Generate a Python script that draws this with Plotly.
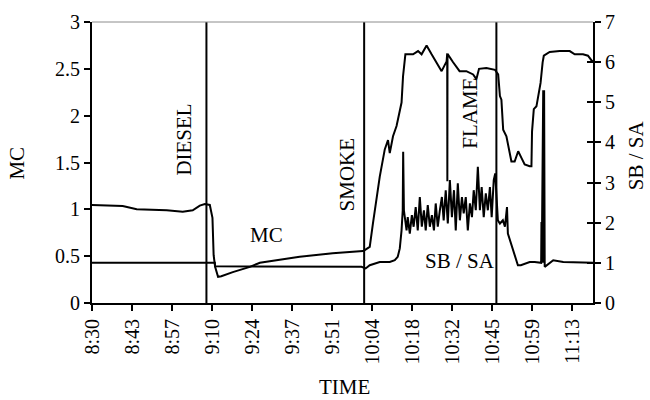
import plotly.graph_objects as go

# ---------------- data (time = minutes after 8:30) ----------------
tick_labels = ["8:30", "8:43", "8:57", "9:10", "9:24", "9:37", "9:51",
               "10:04", "10:18", "10:32", "10:45", "10:59", "11:13"]

mc_t = [0.0, 4.31, 10.43, 15.18, 19.6, 25.37, 30.8, 34.2, 36.6, 38.3, 40.0, 40.9,
        41.3, 41.8, 42.8, 43.9, 47.8, 53.6, 57.0, 64.8, 70.5, 81.7, 87.5, 92.0,
        92.6, 94.3, 95.4, 96.6, 97.7, 99.4, 100.5, 101.1, 102.2, 103.4, 105.1,
        105.6, 106.4, 109.0, 110.7, 111.9, 113.6, 115.3, 117.5, 118.7, 120.4,
        120.6, 120.65, 120.7, 122.6, 124.8, 127.1, 129.4, 130.5, 131.4, 133.9,
        136.8, 137.9, 138.5, 139.0, 139.6, 140.7, 141.3, 142.4, 143.5, 144.7,
        145.8, 146.9, 148.6, 149.2, 149.4, 150.0, 150.9, 151.5, 152.3, 153.0,
        153.4, 155.4, 158.8, 162.2, 163.9, 166.7, 168.4, 169.6, 170.1]
mc_val = [1.047, 1.04, 1.036, 1.00, 0.995, 0.99, 0.975, 0.99, 1.04, 1.057, 1.047, 0.91,
          0.51, 0.386, 0.28, 0.286, 0.33, 0.386, 0.43, 0.465, 0.493, 0.53, 0.545, 0.554,
          0.565, 0.60, 0.854, 1.10, 1.35, 1.64, 1.74, 1.60, 1.78, 1.89, 2.14,
          2.42, 2.655, 2.655, 2.69, 2.655, 2.75, 2.655, 2.53, 2.475, 2.58,
          2.665, 1.30, 2.66, 2.57, 2.475, 2.475, 2.44, 2.39, 2.50, 2.51,
          2.49, 2.44, 2.21, 2.17, 1.85, 1.78, 1.67, 1.51, 1.51, 1.62,
          1.55, 1.48, 1.46, 1.46, 1.83, 2.07, 2.10, 2.21, 2.35, 2.57,
          2.64, 2.68, 2.69, 2.69, 2.655, 2.655, 2.64, 2.59, 2.58]

sb_t = [0.0, 41.7, 41.8, 53.6, 70.5, 84.1, 91.5, 92.9, 94.3, 97.7, 101.1, 102.8,
        103.8, 104.5, 105.1, 105.5, 105.65, 105.9, 106.8, 107.2, 107.9, 108.6,
        109.2, 109.9, 110.6, 111.3, 111.98, 112.7, 113.3, 114.0, 114.7, 115.4,
        116.1, 116.7, 117.4, 118.1, 118.8, 119.4, 120.1, 120.8, 121.5, 122.2,
        122.9, 123.5, 124.2, 124.9, 125.6, 126.2, 126.9, 127.6, 128.3, 129.0,
        129.6, 130.3, 131.0, 131.7, 132.3, 133.0, 133.7, 134.4, 135.1, 135.7,
        136.4, 136.9, 137.4, 137.8, 138.5, 139.5, 140.2, 140.9, 141.2, 141.9,
        142.9, 143.9, 144.6, 145.6, 146.9, 148.6, 150.3, 152.5, 152.6, 152.7,
        153.2, 153.3, 153.5, 153.7, 156.6, 160.0, 170.1]
sb_val = [1.0, 1.0, 0.915, 0.915, 0.91, 0.90, 0.90, 0.86, 0.94, 1.02, 1.02, 1.065,
          1.15, 1.36, 1.81, 2.31, 3.77, 2.31, 1.81, 2.14, 1.73, 2.19,
          1.90, 2.39, 1.81, 2.64, 1.90, 2.31, 1.81, 2.44, 1.90, 2.19,
          1.81, 2.48, 1.90, 2.31, 2.64, 2.06, 2.81, 1.98, 3.06, 2.14,
          2.81, 1.81, 2.98, 2.06, 2.64, 2.23, 2.64, 1.81, 2.48, 2.14,
          2.81, 2.31, 3.39, 2.31, 2.89, 2.14, 2.73, 2.31, 2.89, 2.14,
          3.06, 3.23, 2.48, 2.06, 1.98, 2.06, 1.90, 2.39, 1.73, 1.56,
          1.31, 1.065, 0.94, 0.94, 0.98, 1.02, 1.02, 1.0, 2.02, 1.0,
          5.30, 1.0, 5.30, 0.90, 1.065, 1.02, 1.0]

event_times = [38.85, 92.4, 137.3]
event_names = ["DIESEL", "SMOKE", "FLAME"]

# ---------------- figure ----------------
FONT = "Liberation Serif, Times New Roman, serif"
x_max = 170.1
tick_step = 163.0 / 12
tick_vals = [k * tick_step for k in range(len(tick_labels))]

fig = go.Figure()
fig.add_trace(go.Scatter(x=mc_t, y=mc_val, mode="lines", name="MC",
                         line=dict(color="black", width=2), yaxis="y"))
fig.add_trace(go.Scatter(x=sb_t, y=sb_val, mode="lines", name="SB / SA",
                         line=dict(color="black", width=2), yaxis="y2"))

for t in event_times:
    fig.add_shape(type="line", xref="x", yref="paper", x0=t, x1=t, y0=0, y1=1,
                  line=dict(color="black", width=2))

# top border (gray)
fig.add_shape(type="line", xref="paper", yref="paper", x0=0, x1=1, y0=1, y1=1,
              line=dict(color="#8c8c8c", width=1))

lab_font = dict(family=FONT, size=21, color="black")
label_pos = {"DIESEL": (31.1, 1.74), "SMOKE": (86.5, 1.37), "FLAME": (128.3, 2.03)}
for name in event_names:
    lx, ly = label_pos[name]
    fig.add_annotation(x=lx, y=ly, xref="x", yref="y", text=name, showarrow=False,
                       textangle=-90, xanchor="center", yanchor="middle", font=lab_font)

fig.add_annotation(x=59.1, y=0.726, xref="x", yref="y", text="MC", showarrow=False,
                   xanchor="center", yanchor="middle", font=lab_font)
fig.add_annotation(x=124.9, y=0.447, xref="x", yref="y", text="SB / SA", showarrow=False,
                   xanchor="center", yanchor="middle", font=lab_font)

# axis titles (paper coords; plot area spans x 92..593, y 22..302.7 px)
fig.add_annotation(x=-0.1486, y=0.498, xref="paper", yref="paper", text="MC",
                   showarrow=False, textangle=-90, xanchor="center", yanchor="middle",
                   font=lab_font)
fig.add_annotation(x=1.086, y=0.526, xref="paper", yref="paper", text="SB / SA",
                   showarrow=False, textangle=-90, xanchor="center", yanchor="middle",
                   font=lab_font)
fig.add_annotation(x=0.503, y=-0.300, xref="paper", yref="paper", text="TIME",
                   showarrow=False, xanchor="center", yanchor="middle", font=lab_font)

tickfont = dict(family=FONT, size=20, color="black")
fig.update_layout(
    width=650, height=400,
    margin=dict(l=92, r=57, t=22, b=97, autoexpand=False),
    paper_bgcolor="white", plot_bgcolor="white",
    showlegend=False,
    xaxis=dict(range=[0, x_max], tickvals=tick_vals, ticktext=tick_labels,
               tickangle=-90, ticks="outside", ticklen=6, tickwidth=2, tickcolor="black",
               showline=True, linecolor="black", linewidth=2, showgrid=False,
               zeroline=False, tickfont=tickfont, automargin=False),
    yaxis=dict(range=[0, 3], tickvals=[0, 0.5, 1, 1.5, 2, 2.5, 3],
               ticktext=["0", "0.5", "1", "1.5", "2", "2.5", "3"],
               ticks="outside", ticklen=6, tickwidth=2, tickcolor="black",
               showline=True, linecolor="black", linewidth=2, showgrid=False,
               zeroline=False, tickfont=tickfont, automargin=False),
    yaxis2=dict(range=[0, 7], tickvals=list(range(8)), overlaying="y", side="right",
                ticks="outside", ticklen=6, tickwidth=2, tickcolor="black",
                showline=True, linecolor="black", linewidth=2, showgrid=False,
                zeroline=False, tickfont=tickfont, automargin=False),
    yaxis3=dict(range=[0, 7], tickvals=list(range(8)), overlaying="y", side="right",
                ticks="inside", ticklen=6, tickwidth=2, tickcolor="black",
                showticklabels=False, showline=False, showgrid=False, zeroline=False,
                automargin=False),
)
# invisible trace to activate the inside-tick copy of the right axis
fig.add_trace(go.Scatter(x=[0], y=[0], yaxis="y3", mode="markers",
                         marker=dict(opacity=0), hoverinfo="skip"))

fig.write_html("out.html", config={"displayModeBar": False},
               post_script="document.body.style.margin='0px';")
